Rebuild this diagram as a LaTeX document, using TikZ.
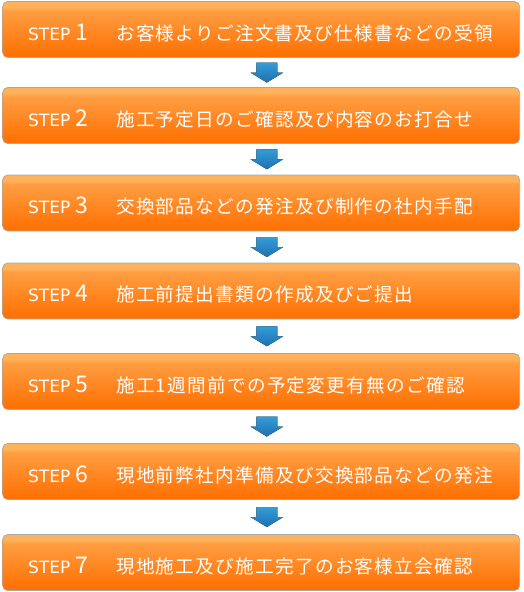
\documentclass[tikz,border=0pt]{standalone}
\usepackage{fontspec}
\setmainfont{DejaVu Sans}
\newfontfamily\jpfont[LetterSpace=7]{Noto Sans CJK JP}
\newfontfamily\numfont{Noto Sans CJK JP}
\usepackage{xcolor}
\usepackage{tikz}
\usetikzlibrary{calc}
\definecolor{stepband}{HTML}{FFB25C}
\definecolor{steptop}{HTML}{FF9E42}
\definecolor{stepbot}{HTML}{FF6E00}
\definecolor{stepline}{HTML}{A8A8A8}
\definecolor{arrtop}{HTML}{339DD8}
\definecolor{arrbot}{HTML}{1F70B0}
\pgfdeclareverticalshading{stepshade}{100bp}{color(0bp)=(stepbot); color(25bp)=(stepbot); color(67bp)=(steptop); color(70bp)=(stepband); color(75bp)=(stepband); color(100bp)=(stepband)}
% label of one step: number, then text
\newcommand{\steplabel}[2]{\makebox[88pt][l]{\fontsize{17}{17}\selectfont STEP\hspace{5.5pt}{\numfont\fontsize{23}{23}\selectfont #1}}{\jpfont\fontsize{18.6}{18.6}\selectfont #2}}
% blue arrow between two boxes
\newcommand{\stepdown}[2]{\fill[downarrow] ($(#1.south)!0.5!(#2.north)+(5.7,0)$) ++(-10.5,10) -- ++(21,0) -- ++(0,-10) -- ++(6,0) -- ++(-16.5,-10) -- ++(-16.5,10) -- ++(6,0) -- cycle;}

\begin{document}
\begin{tikzpicture}[x=1pt,y=1pt,
  stepbox/.style={rectangle,rounded corners=5pt,draw=stepline,line width=0.7pt,shading=stepshade,
    minimum width=517pt,minimum height=56pt,text width=466pt,align=left,inner xsep=25.5pt,inner ysep=0pt,
    text height=21pt,text depth=0pt,text=white,anchor=west},
  downarrow/.style={top color=arrtop,bottom color=arrbot}]
\useasboundingbox (0,0) rectangle (524,-592);
\node [stepbox] (s1) at (2.3,-29.5) {\steplabel{1}{お客様よりご注文書及び仕様書などの受領}};
\node [stepbox] (s2) at (2.3,-115.5) {\steplabel{2}{施工予定日のご確認及び内容のお打合せ}};
\node [stepbox] (s3) at (2.3,-203) {\steplabel{3}{交換部品などの発注及び制作の社内手配}};
\node [stepbox] (s4) at (2.3,-291) {\steplabel{4}{施工前提出書類の作成及びご提出}};
\node [stepbox] (s5) at (2.3,-381.5) {\steplabel{5}{施工1週間前での予定変更有無のご確認}};
\node [stepbox] (s6) at (2.3,-471.5) {\steplabel{6}{現地前弊社内準備及び交換部品などの発注}};
\node [stepbox] (s7) at (2.3,-562.5) {\steplabel{7}{現地施工及び施工完了のお客様立会確認}};
\stepdown{s1}{s2}
\stepdown{s2}{s3}
\stepdown{s3}{s4}
\stepdown{s4}{s5}
\stepdown{s5}{s6}
\stepdown{s6}{s7}
\end{tikzpicture}
\end{document}
